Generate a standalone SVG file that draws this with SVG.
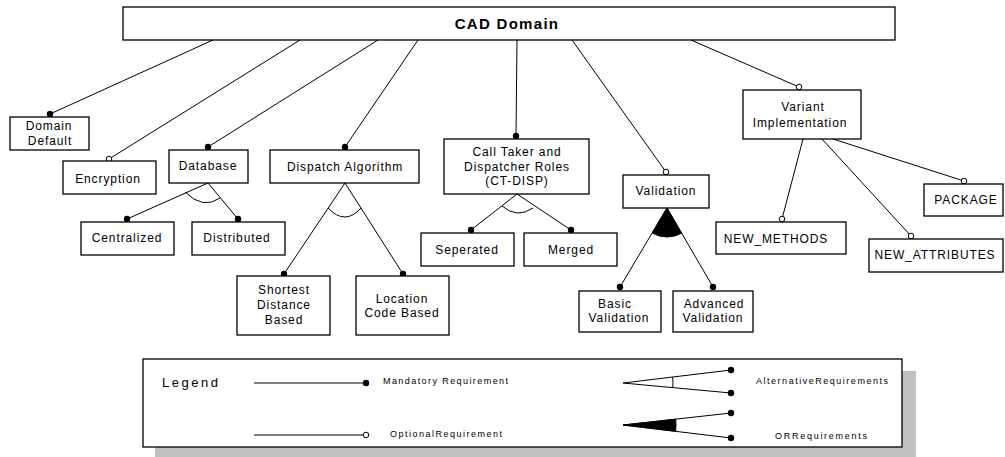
<svg xmlns="http://www.w3.org/2000/svg" width="1005" height="457" viewBox="0 0 1005 457">
<style>
.box{fill:#fff;stroke:#000;stroke-width:1.3}
.t{font-family:"Liberation Sans",Arial,sans-serif;font-size:12px;letter-spacing:0.9px;fill:#000;text-anchor:middle}
.lt{font-family:"Liberation Sans",Arial,sans-serif;font-size:9px;fill:#000}
.ln{fill:none;stroke:#000;stroke-width:1}
.arc{fill:none;stroke:#000;stroke-width:1}
.fill{fill:#000;stroke:#000;stroke-width:1}
.m{marker-end:url(#dot)}
.o{marker-end:url(#odot)}
</style>
<defs>
<marker id="dot" viewBox="0 0 8 8" refX="4" refY="4" markerWidth="8" markerHeight="8" markerUnits="userSpaceOnUse">
<circle cx="4" cy="4" r="3.2" fill="#000"/>
</marker>
<marker id="odot" viewBox="0 0 8 8" refX="4" refY="4" markerWidth="8" markerHeight="8" markerUnits="userSpaceOnUse">
<circle cx="4" cy="4" r="2.8" fill="#fff" stroke="#000" stroke-width="1"/>
</marker>
</defs>

<g id="connectors">
<line class="ln m" x1="213" y1="40" x2="50" y2="114"/>
<line class="ln o" x1="300" y1="40" x2="109" y2="159"/>
<line class="ln m" x1="378" y1="40" x2="208" y2="147"/>
<line class="ln m" x1="418" y1="40" x2="345" y2="147"/>
<line class="ln m" x1="517" y1="40" x2="516" y2="136"/>
<line class="ln o" x1="572" y1="40" x2="666" y2="172"/>
<line class="ln o" x1="691" y1="40" x2="799" y2="87"/>
<line class="ln m" x1="208" y1="183" x2="127" y2="219"/>
<line class="ln m" x1="208" y1="183" x2="238" y2="219"/>
<path class="arc" d="M185,192 Q203,210 220,198"/>
<line class="ln m" x1="345" y1="183" x2="284" y2="274"/>
<line class="ln m" x1="345" y1="183" x2="403" y2="274"/>
<path class="arc" d="M328,208 Q345,226 361,208"/>
<line class="ln m" x1="517" y1="194" x2="471" y2="230"/>
<line class="ln m" x1="517" y1="194" x2="571" y2="230"/>
<path class="arc" d="M502,206 Q517,219 533,208"/>
<line class="ln m" x1="667" y1="208" x2="620" y2="287"/>
<line class="ln m" x1="667" y1="208" x2="713" y2="287"/>
<path class="fill" d="M667,208 L652.2,232.9 A29,29 0 0 0 681.6,233.1 Z"/>
<line class="ln o" x1="803" y1="139" x2="782" y2="219"/>
<line class="ln o" x1="822" y1="139" x2="911" y2="236"/>
<line class="ln o" x1="833" y1="139" x2="964" y2="181"/>
</g>

<g id="cad-domain">
<rect class="box" x="123" y="7" width="772" height="33"/>
<text x="507" y="29" style="font-family:'Liberation Sans',Arial,sans-serif;font-size:15px;font-weight:bold;letter-spacing:1.3px;text-anchor:middle">CAD Domain</text>
</g>
<g id="domain-default">
<rect class="box" x="10" y="117" width="79" height="33"/>
<text class="t" x="49" y="130">Domain</text>
<text class="t" x="50" y="145">Default</text>
</g>
<g id="encryption">
<rect class="box" x="63" y="161" width="93" height="33"/>
<text class="t" x="108" y="182.5">Encryption</text>
</g>
<g id="database">
<rect class="box" x="169" y="150" width="79" height="33"/>
<text class="t" x="208" y="170">Database</text>
</g>
<g id="dispatch-algorithm">
<rect class="box" x="270" y="150" width="149" height="33"/>
<text class="t" x="345" y="171">Dispatch  Algorithm</text>
</g>
<g id="call-taker">
<rect class="box" x="444" y="139" width="145" height="55"/>
<text class="t" x="517" y="156">Call Taker and</text>
<text class="t" x="517" y="170.5">Dispatcher Roles</text>
<text class="t" x="517" y="185">(CT-DISP)</text>
</g>
<g id="validation">
<rect class="box" x="623" y="175" width="86" height="33"/>
<text class="t" x="666" y="195">Validation</text>
</g>
<g id="variant-implementation">
<rect class="box" x="743" y="90" width="118" height="49"/>
<text class="t" x="803" y="111">Variant</text>
<text class="t" x="800" y="127">Implementation</text>
</g>
<g id="centralized">
<rect class="box" x="81" y="222" width="93" height="33"/>
<text class="t" x="127" y="242">Centralized</text>
</g>
<g id="distributed">
<rect class="box" x="192" y="222" width="93" height="33"/>
<text class="t" x="237" y="242">Distributed</text>
</g>
<g id="shortest-distance">
<rect class="box" x="237" y="276" width="93" height="59"/>
<text class="t" x="284" y="294">Shortest</text>
<text class="t" x="284" y="309">Distance</text>
<text class="t" x="284" y="324">Based</text>
</g>
<g id="location-code">
<rect class="box" x="356" y="276" width="93" height="59"/>
<text class="t" x="402" y="303">Location</text>
<text class="t" x="402" y="317">Code Based</text>
</g>
<g id="seperated">
<rect class="box" x="421" y="233" width="93" height="33"/>
<text class="t" x="467" y="254">Seperated</text>
</g>
<g id="merged">
<rect class="box" x="524" y="233" width="93" height="33"/>
<text class="t" x="571" y="254">Merged</text>
</g>
<g id="basic-validation">
<rect class="box" x="579" y="291" width="82" height="41"/>
<text class="t" x="615" y="308">Basic</text>
<text class="t" x="619" y="322">Validation</text>
</g>
<g id="advanced-validation">
<rect class="box" x="673" y="291" width="80" height="41"/>
<text class="t" x="714" y="308">Advanced</text>
<text class="t" x="713" y="322">Validation</text>
</g>
<g id="new-methods">
<rect class="box" x="716" y="222" width="130" height="32"/>
<text class="t" x="776" y="243">NEW_METHODS</text>
</g>
<g id="new-attributes">
<rect class="box" x="869" y="239" width="134" height="33"/>
<text class="t" x="935" y="259">NEW_ATTRIBUTES</text>
</g>
<g id="package">
<rect class="box" x="924" y="184" width="79" height="32"/>
<text class="t" x="966" y="204">PACKAGE</text>
</g>

<g id="legend">
<rect x="155" y="371" width="761" height="86" fill="#c0c0c0"/>
<rect x="143" y="359" width="759" height="88" fill="#fff" stroke="#000" stroke-width="1.3"/>
<text x="162" y="387" style="font-family:'Liberation Sans',Arial,sans-serif;font-size:13px;letter-spacing:2.5px">Legend</text>
<line class="ln m" x1="254" y1="383" x2="366" y2="383"/>
<text class="lt" x="383" y="384" textLength="125" lengthAdjust="spacing">Mandatory Requirement</text>
<line class="ln o" x1="254" y1="435" x2="366" y2="435"/>
<text class="lt" x="390" y="437" textLength="112" lengthAdjust="spacing">OptionalRequirement</text>
<line class="ln m" x1="623" y1="383" x2="731" y2="370"/>
<line class="ln m" x1="623" y1="383" x2="731" y2="393"/>
<path class="arc" d="M672.6,377 A50,50 0 0 1 672.8,387.6"/>
<text class="lt" x="756" y="384" textLength="132" lengthAdjust="spacing">AlternativeRequirements</text>
<line class="ln m" x1="623" y1="425" x2="731" y2="413"/>
<line class="ln m" x1="623" y1="425" x2="731" y2="438"/>
<path class="fill" d="M623,425 L675.7,419.2 A53,53 0 0 1 675.6,431.3 Z"/>
<text class="lt" x="775" y="439" textLength="92" lengthAdjust="spacing">ORRequirements</text>
</g>
</svg>
